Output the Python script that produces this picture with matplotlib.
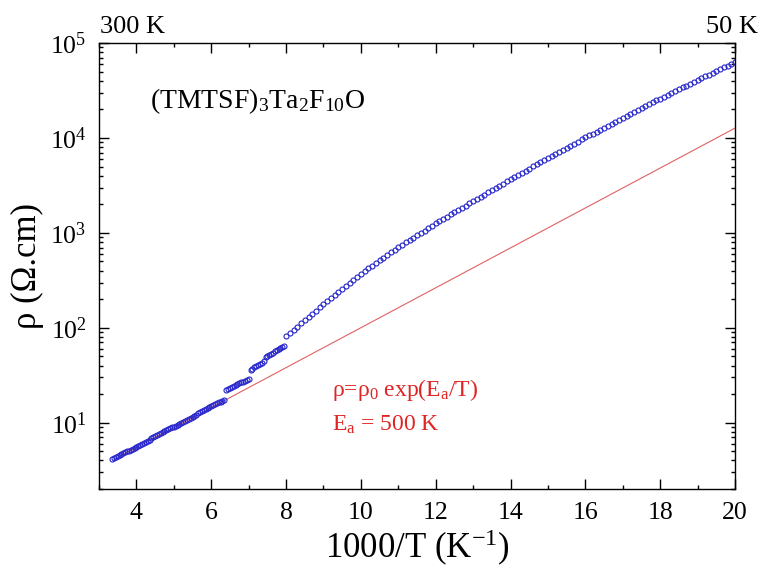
import numpy as np
import matplotlib
matplotlib.use("Agg")
import matplotlib.pyplot as plt

# resistivity of (TMTSF)3Ta2F10O
# x = 1000/T (1/K), values stored as log10(rho / Ohm.cm)
x_seg1 = [3.35, 3.40, 3.45, 3.50, 3.55, 3.60, 3.65, 3.70, 3.75, 3.80,
          3.85, 3.90, 3.95, 4.00, 4.05, 4.10, 4.15, 4.20, 4.25, 4.30,
          4.35, 4.40, 4.45, 4.50, 4.55, 4.60, 4.65, 4.70, 4.75, 4.80,
          4.85, 4.90, 4.95, 5.00, 5.05, 5.10, 5.15, 5.20, 5.25, 5.30,
          5.35, 5.40, 5.45, 5.50, 5.55, 5.60, 5.65, 5.70, 5.75, 5.80,
          5.85, 5.90, 5.95, 6.00, 6.05, 6.10, 6.15, 6.20, 6.25, 6.30, 6.35]
logr_seg1 = [0.620, 0.630, 0.639, 0.649, 0.659, 0.669, 0.678, 0.688, 0.698, 0.707,
             0.717, 0.727, 0.736, 0.746, 0.756, 0.766, 0.775, 0.785, 0.795, 0.804,
             0.814, 0.844, 0.854, 0.863, 0.873, 0.883, 0.892, 0.902, 0.912, 0.921,
             0.931, 0.941, 0.950, 0.960, 0.970, 0.980, 0.989, 0.999, 1.009, 1.018,
             1.028, 1.038, 1.047, 1.057, 1.067, 1.077, 1.106, 1.116, 1.126, 1.135,
             1.145, 1.155, 1.164, 1.174, 1.184, 1.194, 1.203, 1.213, 1.223, 1.232, 1.242]

x_seg2 = [6.40, 6.45, 6.50, 6.55, 6.60, 6.65, 6.70, 6.75, 6.80, 6.85, 6.90, 6.95, 7.00]
logr_seg2 = [1.347, 1.357, 1.366, 1.376, 1.386, 1.395, 1.405, 1.415, 1.424, 1.434,
             1.444, 1.453, 1.463]

x_seg3 = [7.05, 7.10, 7.15, 7.20, 7.25, 7.30, 7.35, 7.40, 7.45, 7.50,
          7.55, 7.60, 7.65, 7.70, 7.75, 7.80, 7.85, 7.90, 7.95]
logr_seg3 = [1.558, 1.571, 1.583, 1.596, 1.608, 1.621, 1.633, 1.646, 1.688, 1.701,
             1.713, 1.726, 1.738, 1.751, 1.763, 1.776, 1.788, 1.801, 1.813]

x_seg4 = [8.0, 8.1, 8.2, 8.3, 8.4, 8.5, 8.6, 8.7, 8.8, 8.9,
          9.0, 9.1, 9.2, 9.3, 9.4, 9.5, 9.6, 9.7, 9.8, 9.9,
          10.0, 10.1, 10.2, 10.3, 10.4, 10.5, 10.6, 10.7, 10.8, 10.9,
          11.0, 11.1, 11.2, 11.3, 11.4, 11.5, 11.6, 11.7, 11.8, 11.9,
          12.0, 12.1, 12.2, 12.3, 12.4, 12.5, 12.6, 12.7, 12.8, 12.9,
          13.0, 13.1, 13.2, 13.3, 13.4, 13.5, 13.6, 13.7, 13.8, 13.9,
          14.0, 14.1, 14.2, 14.3, 14.4, 14.5, 14.6, 14.7, 14.8, 14.9,
          15.0, 15.1, 15.2, 15.3, 15.4, 15.5, 15.6, 15.7, 15.8, 15.9,
          16.0, 16.1, 16.2, 16.3, 16.4, 16.5, 16.6, 16.7, 16.8, 16.9,
          17.0, 17.1, 17.2, 17.3, 17.4, 17.5, 17.6, 17.7, 17.8, 17.9,
          18.0, 18.1, 18.2, 18.3, 18.4, 18.5, 18.6, 18.7, 18.8, 18.9,
          19.0, 19.1, 19.2, 19.3, 19.4, 19.5, 19.6, 19.7, 19.8, 19.9, 20.0]
logr_seg4 = [1.910, 1.944, 1.978, 2.012, 2.046, 2.080, 2.114, 2.148, 2.182, 2.216,
             2.250, 2.282, 2.314, 2.346, 2.378, 2.410, 2.442, 2.474, 2.506, 2.538,
             2.570, 2.598, 2.626, 2.654, 2.682, 2.710, 2.738, 2.766, 2.794, 2.822,
             2.850, 2.875, 2.900, 2.925, 2.950, 2.975, 3.000, 3.025, 3.050, 3.075,
             3.100, 3.124, 3.147, 3.171, 3.194, 3.218, 3.241, 3.265, 3.288, 3.312,
             3.335, 3.358, 3.381, 3.404, 3.427, 3.450, 3.473, 3.496, 3.519, 3.542,
             3.565, 3.588, 3.610, 3.633, 3.655, 3.678, 3.700, 3.723, 3.745, 3.768,
             3.790, 3.812, 3.833, 3.855, 3.876, 3.898, 3.919, 3.941, 3.962, 3.984,
             4.005, 4.026, 4.047, 4.068, 4.089, 4.110, 4.131, 4.152, 4.173, 4.194,
             4.215, 4.235, 4.255, 4.275, 4.295, 4.315, 4.335, 4.355, 4.375, 4.395,
             4.415, 4.435, 4.454, 4.474, 4.493, 4.513, 4.532, 4.552, 4.571, 4.591,
             4.610, 4.629, 4.648, 4.667, 4.686, 4.705, 4.724, 4.743, 4.762, 4.781, 4.800]

# activation fit, straight line on the log plot (end points)
fit_x = [3.4, 20.0]
fit_rho = [4.1, 1.27e4]

plt.rcParams["font.family"] = "serif"
plt.rcParams["font.serif"] = ["Liberation Serif", "DejaVu Serif"]
plt.rcParams["mathtext.fontset"] = "custom"
plt.rcParams["mathtext.rm"] = "Liberation Serif"
plt.rcParams["mathtext.it"] = "Liberation Serif:italic"
plt.rcParams["mathtext.default"] = "regular"

fig = plt.figure(figsize=(7.64, 5.74), dpi=100)
ax = fig.add_axes([0.1296, 0.148, 0.8325, 0.777])

blue = "#2424cc"
ax.plot(fit_x, fit_rho, color="#e06262", lw=0.8, zorder=1)
for xs, ls in [(x_seg1, logr_seg1), (x_seg2, logr_seg2), (x_seg3, logr_seg3), (x_seg4, logr_seg4)]:
    ax.plot(xs, 10 ** np.array(ls), "o", ms=3.6, mfc="none", mec=blue, mew=0.8, zorder=2)

ax.set_yscale("log")
ax.set_xlim(3.0, 20.0)
ax.set_ylim(2.0, 1e5)
ax.set_xticks([4, 6, 8, 10, 12, 14, 16, 18, 20])
ax.set_xticks(range(3, 21), minor=True)

for s in ax.spines.values():
    s.set_linewidth(1.0)
ax.tick_params(which="both", direction="in", top=True, right=True, width=1.0)
ax.tick_params(which="major", length=7, labelsize=18.5)
ax.tick_params(which="minor", length=3)
ax.tick_params(axis="x", which="major", pad=9)
ax.tick_params(axis="y", which="major", pad=9)

ax.set_xlabel(r"1000/T (K$^{-1}$)", fontsize=25, va="center")
ax.xaxis.set_label_coords(0.5, -0.132)
ax.set_ylabel("ρ (Ω.cm)", fontsize=25, va="center")
ax.yaxis.set_label_coords(-0.112, 0.5)

ax.text(0.08, 0.87, r"(TMTSF)$_3$Ta$_2$F$_{10}$O", transform=ax.transAxes,
        fontsize=20, va="center", ha="left")
red = "#e02424"
ax.text(0.366, 0.222, r"ρ=ρ$_0$ exp(E$_a$/T)", transform=ax.transAxes,
        fontsize=17, color=red, va="center", ha="left")
ax.text(0.366, 0.143, r"E$_a$ = 500 K", transform=ax.transAxes,
        fontsize=17, color=red, va="center", ha="left")

fig.text(100 / 764, 1 - 27 / 574, "300 K", fontsize=19, va="center", ha="left")
fig.text(758 / 764, 1 - 27 / 574, "50 K", fontsize=19, va="center", ha="right")

fig.savefig("out.png", dpi=100)
